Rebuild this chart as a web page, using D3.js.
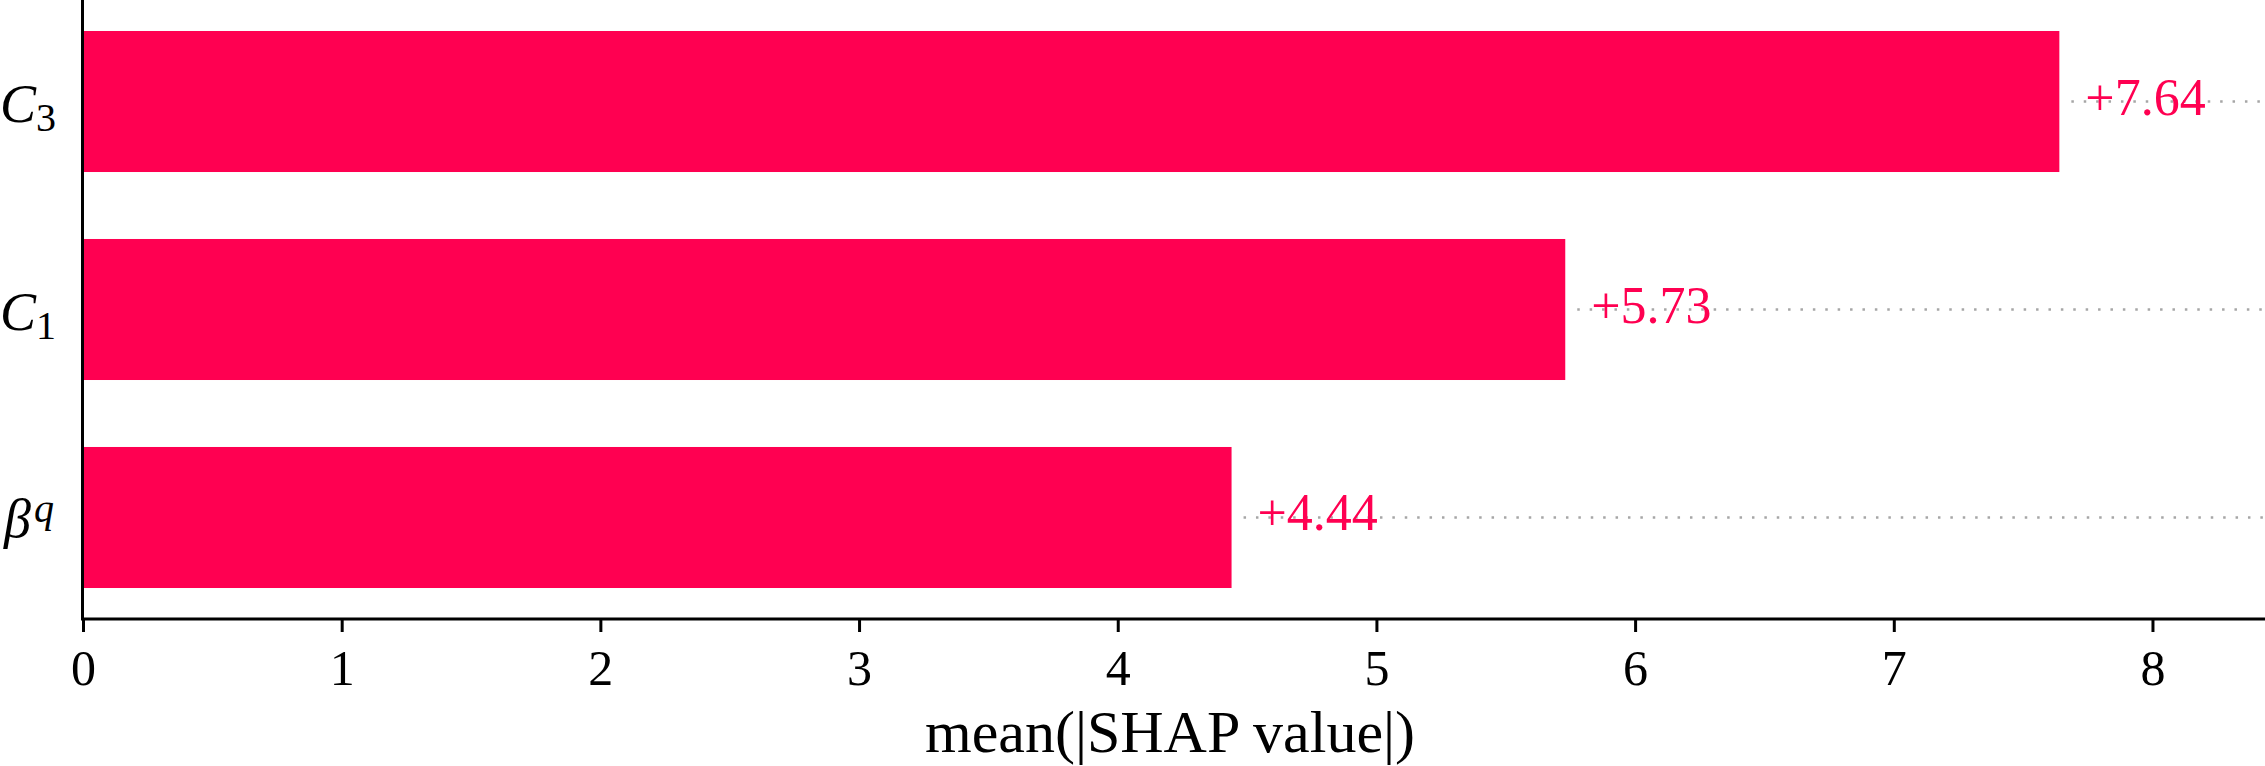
<!DOCTYPE html>
<html>
<head>
<meta charset="utf-8">
<script src="https://cdn.jsdelivr.net/npm/d3@7"></script>
<style>
  body { margin: 0; background: #fff; }
  svg text { font-family: "Liberation Serif", "DejaVu Serif", serif; }
</style>
</head>
<body>
<div id="chart"></div>
<script>
// feature names: base letter, script part, and whether it is sub or superscript
const features = ["C3", "C1", "beta_q"];
const featureBase = ["C", "C", "β"];
const featureScript = ["3", "1", "q"];
const featureScriptKind = ["sub", "sub", "sup"];
const values = [7.64, 5.73, 4.44];
const xTicks = [0, 1, 2, 3, 4, 5, 6, 7, 8];
const xLabel = "mean(|SHAP value|)";

const W = 2265, H = 766;
const barColor = "#ff0051";

const svg = d3.select("#chart")
  .append("svg")
  .attr("width", W)
  .attr("height", H);

const x = d3.scaleLinear().domain([0, 8.435]).range([83, W]);
const y = d3.scaleBand()
  .domain(features)
  .range([0, 619])
  .paddingInner(0.322)
  .paddingOuter(0.149);

// dotted guide lines behind the bars
svg.append("g")
  .selectAll("line")
  .data(features)
  .join("line")
  .attr("x1", (d, i) => x(values[i]) + 12)
  .attr("x2", W)
  .attr("y1", d => y(d) + y.bandwidth() / 2)
  .attr("y2", d => y(d) + y.bandwidth() / 2)
  .attr("stroke", "#a6a6a6")
  .attr("stroke-width", 2.5)
  .attr("stroke-dasharray", "2.5 9.9");

svg.append("g")
  .selectAll("rect")
  .data(features)
  .join("rect")
  .attr("x", x(0) + 1)
  .attr("y", d => y(d))
  .attr("width", (d, i) => x(values[i]) - x(0) - 1)
  .attr("height", y.bandwidth())
  .attr("fill", barColor);

// value labels
svg.append("g")
  .selectAll("text")
  .data(features)
  .join("text")
  .attr("x", (d, i) => x(values[i]) + 26)
  .attr("y", d => y(d) + y.bandwidth() / 2 + 13)
  .attr("fill", barColor)
  .style("font-size", "52px")
  .text((d, i) => "+" + values[i].toFixed(2));

// x axis
const xAxis = svg.append("g")
  .attr("transform", "translate(0,619)")
  .call(d3.axisBottom(x).tickValues(xTicks).tickSize(13).tickPadding(17).tickFormat(d3.format("d")));
xAxis.select(".domain").attr("stroke", "#000").attr("stroke-width", 3).attr("d", `M${x(0)},0H${W}`);
xAxis.selectAll(".tick line").attr("stroke", "#000").attr("stroke-width", 3);
xAxis.selectAll(".tick text")
  .attr("fill", "#000")
  .style("font-size", "50px")
  .attr("dy", "0.71em");

// y axis line
svg.append("line")
  .attr("x1", x(0) - 0.5).attr("x2", x(0) - 0.5)
  .attr("y1", 0).attr("y2", 620.5)
  .attr("stroke", "#000")
  .attr("stroke-width", 3);

// y labels with sub/superscripts
const yLab = svg.append("g")
  .selectAll("text")
  .data(features)
  .join("text")
  .attr("x", (d, i) => featureScriptKind[i] === "sub" ? 56 : 54)
  .attr("y", (d, i) => y(d) + y.bandwidth() / 2 + (featureScriptKind[i] === "sub" ? 20 : 20))
  .attr("text-anchor", "end")
  .attr("fill", "#000")
  .style("font-size", "54px");

yLab.append("tspan")
  .style("font-style", "italic")
  .text((d, i) => featureBase[i]);

yLab.append("tspan")
  .style("font-size", "40px")
  .style("font-style", (d, i) => featureScriptKind[i] === "sup" ? "italic" : "normal")
  .attr("dx", (d, i) => featureScriptKind[i] === "sup" ? 3 : 0)
  .attr("dy", (d, i) => featureScriptKind[i] === "sub" ? 9 : -15)
  .text((d, i) => featureScript[i]);

// x axis title
svg.append("text")
  .attr("x", (x(0) + W) / 2 - 4)
  .attr("y", 752)
  .attr("text-anchor", "middle")
  .attr("fill", "#000")
  .style("font-size", "60px")
  .text(xLabel);
</script>
</body>
</html>
